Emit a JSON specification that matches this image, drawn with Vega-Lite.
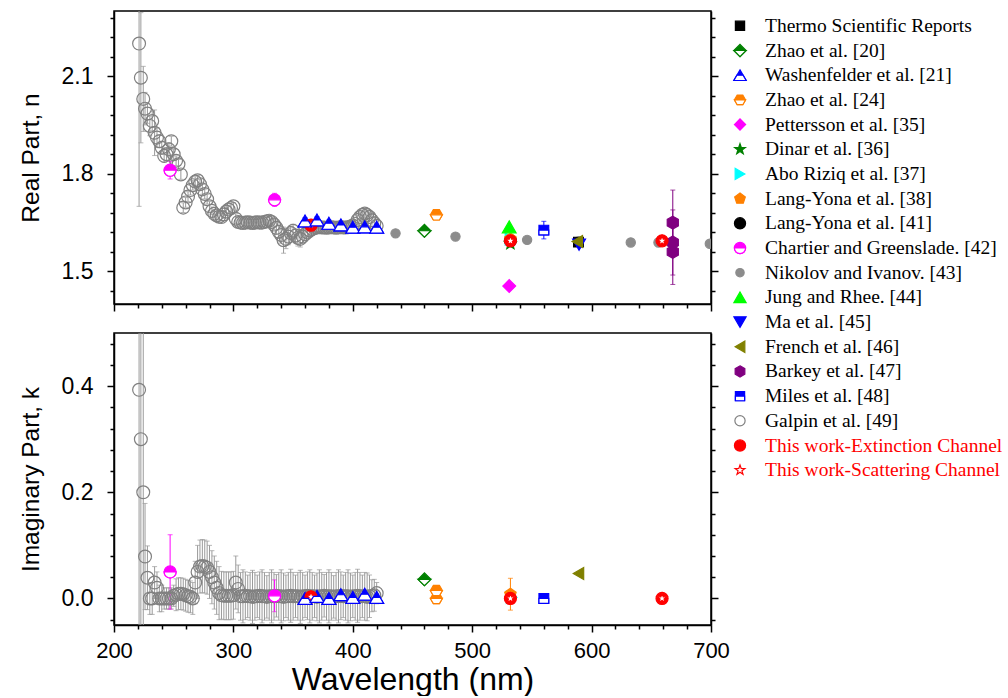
{
"$schema": "https://vega.github.io/schema/vega-lite/v6.json",
"background": "white",
"padding": {"left": 17, "top": 10, "right": 0, "bottom": 0},
"datasets": {
"lg": [
{"s":"Thermo Scientific Reports"},{"s":"Zhao et al. [20]"},{"s":"Washenfelder et al. [21]"},{"s":"Zhao et al. [24]"},{"s":"Pettersson et al. [35]"},{"s":"Dinar et al. [36]"},{"s":"Abo Riziq et al. [37]"},{"s":"Lang-Yona et al. [38]"},{"s":"Lang-Yona et al. [41]"},{"s":"Chartier and Greenslade. [42]"},{"s":"Nikolov and Ivanov. [43]"},{"s":"Jung and Rhee. [44]"},{"s":"Ma et al. [45]"},{"s":"French et al. [46]"},{"s":"Barkey et al. [47]"},{"s":"Miles et al. [48]"},{"s":"Galpin et al. [49]"},{"s":"This work-Extinction Channel"},{"s":"This work-Scattering Channel"}
],
"nd": [
{"s":"Galpin et al. [49]","wl":221,"v":2.2,"e":0.5},
{"s":"Galpin et al. [49]","wl":222.5,"v":2.095,"e":0.2},
{"s":"Galpin et al. [49]","wl":224.5,"v":2.03,"e":0.1},
{"s":"Galpin et al. [49]","wl":226,"v":2.0,"e":0.05},
{"s":"Galpin et al. [49]","wl":228,"v":1.985,"e":0.03},
{"s":"Galpin et al. [49]","wl":230,"v":1.947,"e":0.03},
{"s":"Galpin et al. [49]","wl":232,"v":1.962,"e":0.03},
{"s":"Galpin et al. [49]","wl":234,"v":1.926,"e":0.07},
{"s":"Galpin et al. [49]","wl":236,"v":1.911,"e":0.03},
{"s":"Galpin et al. [49]","wl":238,"v":1.9,"e":0.02},
{"s":"Galpin et al. [49]","wl":240,"v":1.88,"e":0.02},
{"s":"Galpin et al. [49]","wl":242,"v":1.855,"e":0.02},
{"s":"Galpin et al. [49]","wl":244,"v":1.86,"e":0.02},
{"s":"Galpin et al. [49]","wl":246,"v":1.875,"e":0.02},
{"s":"Galpin et al. [49]","wl":248,"v":1.9,"e":0.015},
{"s":"Galpin et al. [49]","wl":250,"v":1.86,"e":0.015},
{"s":"Galpin et al. [49]","wl":252,"v":1.84,"e":0.015},
{"s":"Galpin et al. [49]","wl":254,"v":1.829,"e":0.015},
{"s":"Galpin et al. [49]","wl":256,"v":1.798,"e":0.015},
{"s":"Galpin et al. [49]","wl":258,"v":1.696,"e":0.015},
{"s":"Galpin et al. [49]","wl":260,"v":1.712,"e":0.015},
{"s":"Galpin et al. [49]","wl":262,"v":1.73,"e":0.015},
{"s":"Galpin et al. [49]","wl":264,"v":1.75,"e":0.015},
{"s":"Galpin et al. [49]","wl":266,"v":1.765,"e":0.015},
{"s":"Galpin et al. [49]","wl":268,"v":1.776,"e":0.015},
{"s":"Galpin et al. [49]","wl":270,"v":1.78,"e":0.015},
{"s":"Galpin et al. [49]","wl":272,"v":1.768,"e":0.015},
{"s":"Galpin et al. [49]","wl":274,"v":1.752,"e":0.015},
{"s":"Galpin et al. [49]","wl":276,"v":1.738,"e":0.015},
{"s":"Galpin et al. [49]","wl":278,"v":1.722,"e":0.015},
{"s":"Galpin et al. [49]","wl":280,"v":1.7,"e":0.015},
{"s":"Galpin et al. [49]","wl":282,"v":1.686,"e":0.012},
{"s":"Galpin et al. [49]","wl":284,"v":1.677,"e":0.012},
{"s":"Galpin et al. [49]","wl":286,"v":1.672,"e":0.012},
{"s":"Galpin et al. [49]","wl":288,"v":1.668,"e":0.012},
{"s":"Galpin et al. [49]","wl":290,"v":1.667,"e":0.012},
{"s":"Galpin et al. [49]","wl":292,"v":1.675,"e":0.012},
{"s":"Galpin et al. [49]","wl":294,"v":1.684,"e":0.012},
{"s":"Galpin et al. [49]","wl":296,"v":1.69,"e":0.012},
{"s":"Galpin et al. [49]","wl":298,"v":1.695,"e":0.012},
{"s":"Galpin et al. [49]","wl":300,"v":1.7,"e":0.012},
{"s":"Galpin et al. [49]","wl":302,"v":1.662,"e":0.015},
{"s":"Galpin et al. [49]","wl":304,"v":1.652,"e":0.015},
{"s":"Galpin et al. [49]","wl":306,"v":1.65,"e":0.012},
{"s":"Galpin et al. [49]","wl":308,"v":1.649,"e":0.012},
{"s":"Galpin et al. [49]","wl":310,"v":1.65,"e":0.012},
{"s":"Galpin et al. [49]","wl":312,"v":1.651,"e":0.012},
{"s":"Galpin et al. [49]","wl":314,"v":1.65,"e":0.012},
{"s":"Galpin et al. [49]","wl":316,"v":1.649,"e":0.012},
{"s":"Galpin et al. [49]","wl":318,"v":1.65,"e":0.012},
{"s":"Galpin et al. [49]","wl":320,"v":1.651,"e":0.012},
{"s":"Galpin et al. [49]","wl":322,"v":1.65,"e":0.012},
{"s":"Galpin et al. [49]","wl":324,"v":1.65,"e":0.012},
{"s":"Galpin et al. [49]","wl":326,"v":1.652,"e":0.012},
{"s":"Galpin et al. [49]","wl":328,"v":1.654,"e":0.012},
{"s":"Galpin et al. [49]","wl":330,"v":1.656,"e":0.015},
{"s":"Galpin et al. [49]","wl":332,"v":1.652,"e":0.015},
{"s":"Galpin et al. [49]","wl":334,"v":1.644,"e":0.015},
{"s":"Galpin et al. [49]","wl":336,"v":1.634,"e":0.02},
{"s":"Galpin et al. [49]","wl":338,"v":1.622,"e":0.02},
{"s":"Galpin et al. [49]","wl":340,"v":1.612,"e":0.025},
{"s":"Galpin et al. [49]","wl":342,"v":1.596,"e":0.04},
{"s":"Galpin et al. [49]","wl":344,"v":1.6,"e":0.03},
{"s":"Galpin et al. [49]","wl":346,"v":1.607,"e":0.025},
{"s":"Galpin et al. [49]","wl":348,"v":1.618,"e":0.02},
{"s":"Galpin et al. [49]","wl":350,"v":1.625,"e":0.02},
{"s":"Galpin et al. [49]","wl":352,"v":1.61,"e":0.02},
{"s":"Galpin et al. [49]","wl":354,"v":1.603,"e":0.025},
{"s":"Galpin et al. [49]","wl":356,"v":1.6,"e":0.025},
{"s":"Galpin et al. [49]","wl":358,"v":1.607,"e":0.02},
{"s":"Galpin et al. [49]","wl":360,"v":1.614,"e":0.02},
{"s":"Galpin et al. [49]","wl":362,"v":1.62,"e":0.015},
{"s":"Galpin et al. [49]","wl":364,"v":1.626,"e":0.015},
{"s":"Galpin et al. [49]","wl":366,"v":1.63,"e":0.015},
{"s":"Galpin et al. [49]","wl":368,"v":1.633,"e":0.012},
{"s":"Galpin et al. [49]","wl":370,"v":1.635,"e":0.012},
{"s":"Galpin et al. [49]","wl":372,"v":1.636,"e":0.012},
{"s":"Galpin et al. [49]","wl":374,"v":1.635,"e":0.012},
{"s":"Galpin et al. [49]","wl":376,"v":1.635,"e":0.012},
{"s":"Galpin et al. [49]","wl":378,"v":1.634,"e":0.012},
{"s":"Galpin et al. [49]","wl":380,"v":1.635,"e":0.012},
{"s":"Galpin et al. [49]","wl":382,"v":1.636,"e":0.012},
{"s":"Galpin et al. [49]","wl":384,"v":1.635,"e":0.012},
{"s":"Galpin et al. [49]","wl":386,"v":1.634,"e":0.012},
{"s":"Galpin et al. [49]","wl":388,"v":1.635,"e":0.012},
{"s":"Galpin et al. [49]","wl":390,"v":1.636,"e":0.012},
{"s":"Galpin et al. [49]","wl":392,"v":1.635,"e":0.012},
{"s":"Galpin et al. [49]","wl":394,"v":1.635,"e":0.012},
{"s":"Galpin et al. [49]","wl":396,"v":1.636,"e":0.012},
{"s":"Galpin et al. [49]","wl":398,"v":1.638,"e":0.012},
{"s":"Galpin et al. [49]","wl":400,"v":1.641,"e":0.012},
{"s":"Galpin et al. [49]","wl":402,"v":1.646,"e":0.012},
{"s":"Galpin et al. [49]","wl":404,"v":1.658,"e":0.015},
{"s":"Galpin et al. [49]","wl":406,"v":1.667,"e":0.015},
{"s":"Galpin et al. [49]","wl":408,"v":1.674,"e":0.015},
{"s":"Galpin et al. [49]","wl":410,"v":1.678,"e":0.015},
{"s":"Galpin et al. [49]","wl":412,"v":1.673,"e":0.015},
{"s":"Galpin et al. [49]","wl":414,"v":1.667,"e":0.015},
{"s":"Galpin et al. [49]","wl":416,"v":1.657,"e":0.02},
{"s":"Galpin et al. [49]","wl":418,"v":1.648,"e":0.02},
{"s":"Galpin et al. [49]","wl":420,"v":1.64,"e":0.02},
{"s":"Nikolov and Ivanov. [43]","wl":435.8,"v":1.617,"e":0},
{"s":"Nikolov and Ivanov. [43]","wl":486,"v":1.607,"e":0},
{"s":"Nikolov and Ivanov. [43]","wl":546,"v":1.597,"e":0},
{"s":"Nikolov and Ivanov. [43]","wl":589,"v":1.592,"e":0},
{"s":"Nikolov and Ivanov. [43]","wl":632.8,"v":1.589,"e":0},
{"s":"Nikolov and Ivanov. [43]","wl":656,"v":1.589,"e":0},
{"s":"Nikolov and Ivanov. [43]","wl":699,"v":1.585,"e":0},
{"s":"Washenfelder et al. [21]","wl":360,"v":1.655,"e":0.01},
{"s":"Washenfelder et al. [21]","wl":370,"v":1.658,"e":0.01},
{"s":"Washenfelder et al. [21]","wl":380,"v":1.648,"e":0.01},
{"s":"Washenfelder et al. [21]","wl":390,"v":1.643,"e":0.01},
{"s":"Washenfelder et al. [21]","wl":400,"v":1.636,"e":0.01},
{"s":"Washenfelder et al. [21]","wl":410,"v":1.637,"e":0.01},
{"s":"Washenfelder et al. [21]","wl":420,"v":1.636,"e":0.01},
{"s":"Chartier and Greenslade. [42]","wl":247,"v":1.811,"e":0.027},
{"s":"Chartier and Greenslade. [42]","wl":334.5,"v":1.72,"e":0.02},
{"s":"Zhao et al. [20]","wl":460,"v":1.625,"e":0},
{"s":"Zhao et al. [24]","wl":470,"v":1.674,"e":0.005},
{"s":"Lang-Yona et al. [41]","wl":532,"v":1.595,"e":0},
{"s":"Abo Riziq et al. [37]","wl":532,"v":1.6,"e":0},
{"s":"Lang-Yona et al. [38]","wl":532,"v":1.6,"e":0},
{"s":"Dinar et al. [36]","wl":532,"v":1.585,"e":0},
{"s":"Jung and Rhee. [44]","wl":531,"v":1.637,"e":0},
{"s":"Pettersson et al. [35]","wl":531,"v":1.455,"e":0},
{"s":"Miles et al. [48]","wl":560,"v":1.627,"e":0.027},
{"s":"Thermo Scientific Reports","wl":589,"v":1.59,"e":0},
{"s":"Ma et al. [45]","wl":589.5,"v":1.582,"e":0},
{"s":"French et al. [46]","wl":588,"v":1.592,"e":0},
{"s":"Barkey et al. [47]","wl":668,"v":1.65,"e":0.1},
{"s":"Barkey et al. [47]","wl":668,"v":1.589,"e":0.1},
{"s":"Barkey et al. [47]","wl":668,"v":1.56,"e":0.1},
{"s":"This work-Extinction Channel","wl":365,"v":1.642,"e":0.008},
{"s":"This work-Extinction Channel","wl":532,"v":1.594,"e":0.005},
{"s":"This work-Extinction Channel","wl":659,"v":1.594,"e":0},
{"s":"This work-Scattering Channel","wl":365,"v":1.642,"e":0},
{"s":"This work-Scattering Channel","wl":532,"v":1.594,"e":0},
{"s":"This work-Scattering Channel","wl":659,"v":1.594,"e":0}
],
"kd": [
{"s":"Galpin et al. [49]","wl":221,"v":0.393,"e":0.6},
{"s":"Galpin et al. [49]","wl":222.5,"v":0.3,"e":0.5},
{"s":"Galpin et al. [49]","wl":224.5,"v":0.2,"e":0.35},
{"s":"Galpin et al. [49]","wl":226,"v":0.079,"e":0.1},
{"s":"Galpin et al. [49]","wl":228,"v":0.039,"e":0.06},
{"s":"Galpin et al. [49]","wl":230,"v":0,"e":0.03},
{"s":"Galpin et al. [49]","wl":232,"v":0,"e":0.03},
{"s":"Galpin et al. [49]","wl":234,"v":0.03,"e":0.03},
{"s":"Galpin et al. [49]","wl":236,"v":0.02,"e":0.03},
{"s":"Galpin et al. [49]","wl":238,"v":0,"e":0.025},
{"s":"Galpin et al. [49]","wl":240,"v":0,"e":0.025},
{"s":"Galpin et al. [49]","wl":242,"v":0,"e":0.02},
{"s":"Galpin et al. [49]","wl":244,"v":0,"e":0.02},
{"s":"Galpin et al. [49]","wl":246,"v":0,"e":0.02},
{"s":"Galpin et al. [49]","wl":248,"v":0,"e":0.02},
{"s":"Galpin et al. [49]","wl":250,"v":0.005,"e":0.02},
{"s":"Galpin et al. [49]","wl":252,"v":0.007,"e":0.03},
{"s":"Galpin et al. [49]","wl":254,"v":0.009,"e":0.03},
{"s":"Galpin et al. [49]","wl":256,"v":0.009,"e":0.03},
{"s":"Galpin et al. [49]","wl":258,"v":0.008,"e":0.03},
{"s":"Galpin et al. [49]","wl":260,"v":0.006,"e":0.03},
{"s":"Galpin et al. [49]","wl":262,"v":0.004,"e":0.03},
{"s":"Galpin et al. [49]","wl":264,"v":0.003,"e":0.03},
{"s":"Galpin et al. [49]","wl":266,"v":0,"e":0.03},
{"s":"Galpin et al. [49]","wl":268,"v":0.03,"e":0.04},
{"s":"Galpin et al. [49]","wl":270,"v":0.05,"e":0.05},
{"s":"Galpin et al. [49]","wl":272,"v":0.06,"e":0.05},
{"s":"Galpin et al. [49]","wl":274,"v":0.061,"e":0.05},
{"s":"Galpin et al. [49]","wl":276,"v":0.06,"e":0.05},
{"s":"Galpin et al. [49]","wl":278,"v":0.058,"e":0.05},
{"s":"Galpin et al. [49]","wl":280,"v":0.05,"e":0.05},
{"s":"Galpin et al. [49]","wl":282,"v":0.04,"e":0.05},
{"s":"Galpin et al. [49]","wl":284,"v":0.03,"e":0.05},
{"s":"Galpin et al. [49]","wl":286,"v":0.02,"e":0.05},
{"s":"Galpin et al. [49]","wl":288,"v":0.01,"e":0.05},
{"s":"Galpin et al. [49]","wl":290,"v":0.006,"e":0.045},
{"s":"Galpin et al. [49]","wl":292,"v":0.005,"e":0.045},
{"s":"Galpin et al. [49]","wl":294,"v":0.005,"e":0.045},
{"s":"Galpin et al. [49]","wl":296,"v":0.005,"e":0.045},
{"s":"Galpin et al. [49]","wl":298,"v":0.005,"e":0.045},
{"s":"Galpin et al. [49]","wl":300,"v":0.006,"e":0.045},
{"s":"Galpin et al. [49]","wl":302,"v":0.03,"e":0.05},
{"s":"Galpin et al. [49]","wl":304,"v":0.018,"e":0.045},
{"s":"Galpin et al. [49]","wl":306,"v":0.004,"e":0.045},
{"s":"Galpin et al. [49]","wl":308,"v":0.004,"e":0.05},
{"s":"Galpin et al. [49]","wl":310,"v":0.005,"e":0.045},
{"s":"Galpin et al. [49]","wl":312,"v":0.004,"e":0.04},
{"s":"Galpin et al. [49]","wl":314,"v":0.004,"e":0.045},
{"s":"Galpin et al. [49]","wl":316,"v":0.003,"e":0.05},
{"s":"Galpin et al. [49]","wl":318,"v":0.004,"e":0.045},
{"s":"Galpin et al. [49]","wl":320,"v":0.004,"e":0.04},
{"s":"Galpin et al. [49]","wl":322,"v":0.005,"e":0.045},
{"s":"Galpin et al. [49]","wl":324,"v":0.004,"e":0.05},
{"s":"Galpin et al. [49]","wl":326,"v":0.004,"e":0.045},
{"s":"Galpin et al. [49]","wl":328,"v":0.003,"e":0.04},
{"s":"Galpin et al. [49]","wl":330,"v":0.004,"e":0.045},
{"s":"Galpin et al. [49]","wl":332,"v":0.004,"e":0.05},
{"s":"Galpin et al. [49]","wl":334,"v":0.004,"e":0.045},
{"s":"Galpin et al. [49]","wl":336,"v":0.005,"e":0.04},
{"s":"Galpin et al. [49]","wl":338,"v":0.004,"e":0.045},
{"s":"Galpin et al. [49]","wl":340,"v":0.004,"e":0.05},
{"s":"Galpin et al. [49]","wl":342,"v":0.003,"e":0.045},
{"s":"Galpin et al. [49]","wl":344,"v":0.004,"e":0.04},
{"s":"Galpin et al. [49]","wl":346,"v":0.004,"e":0.045},
{"s":"Galpin et al. [49]","wl":348,"v":0.005,"e":0.05},
{"s":"Galpin et al. [49]","wl":350,"v":0.004,"e":0.045},
{"s":"Galpin et al. [49]","wl":352,"v":0.004,"e":0.04},
{"s":"Galpin et al. [49]","wl":354,"v":0.004,"e":0.045},
{"s":"Galpin et al. [49]","wl":356,"v":0.003,"e":0.05},
{"s":"Galpin et al. [49]","wl":358,"v":0.004,"e":0.045},
{"s":"Galpin et al. [49]","wl":360,"v":0.004,"e":0.04},
{"s":"Galpin et al. [49]","wl":362,"v":0.005,"e":0.045},
{"s":"Galpin et al. [49]","wl":364,"v":0.004,"e":0.05},
{"s":"Galpin et al. [49]","wl":366,"v":0.004,"e":0.045},
{"s":"Galpin et al. [49]","wl":368,"v":0.004,"e":0.04},
{"s":"Galpin et al. [49]","wl":370,"v":0.003,"e":0.045},
{"s":"Galpin et al. [49]","wl":372,"v":0.004,"e":0.05},
{"s":"Galpin et al. [49]","wl":374,"v":0.004,"e":0.045},
{"s":"Galpin et al. [49]","wl":376,"v":0.005,"e":0.04},
{"s":"Galpin et al. [49]","wl":378,"v":0.004,"e":0.045},
{"s":"Galpin et al. [49]","wl":380,"v":0.004,"e":0.05},
{"s":"Galpin et al. [49]","wl":382,"v":0.004,"e":0.045},
{"s":"Galpin et al. [49]","wl":384,"v":0.003,"e":0.04},
{"s":"Galpin et al. [49]","wl":386,"v":0.004,"e":0.045},
{"s":"Galpin et al. [49]","wl":388,"v":0.004,"e":0.05},
{"s":"Galpin et al. [49]","wl":390,"v":0.005,"e":0.045},
{"s":"Galpin et al. [49]","wl":392,"v":0.004,"e":0.04},
{"s":"Galpin et al. [49]","wl":394,"v":0.004,"e":0.045},
{"s":"Galpin et al. [49]","wl":396,"v":0.004,"e":0.05},
{"s":"Galpin et al. [49]","wl":398,"v":0.003,"e":0.045},
{"s":"Galpin et al. [49]","wl":400,"v":0.004,"e":0.04},
{"s":"Galpin et al. [49]","wl":402,"v":0.004,"e":0.045},
{"s":"Galpin et al. [49]","wl":404,"v":0.005,"e":0.05},
{"s":"Galpin et al. [49]","wl":406,"v":0.004,"e":0.045},
{"s":"Galpin et al. [49]","wl":408,"v":0.004,"e":0.04},
{"s":"Galpin et al. [49]","wl":410,"v":0.004,"e":0.045},
{"s":"Galpin et al. [49]","wl":412,"v":0.003,"e":0.045},
{"s":"Galpin et al. [49]","wl":414,"v":0.004,"e":0.04},
{"s":"Galpin et al. [49]","wl":416,"v":0.005,"e":0.03},
{"s":"Galpin et al. [49]","wl":418,"v":0.006,"e":0.03},
{"s":"Galpin et al. [49]","wl":420,"v":0.01,"e":0.02},
{"s":"Chartier and Greenslade. [42]","wl":247,"v":0.05,"e":0.07},
{"s":"Chartier and Greenslade. [42]","wl":334.5,"v":0.005,"e":0.03},
{"s":"Washenfelder et al. [21]","wl":360,"v":0.0,"e":0.006},
{"s":"Washenfelder et al. [21]","wl":370,"v":0.004,"e":0.006},
{"s":"Washenfelder et al. [21]","wl":380,"v":0.0,"e":0.006},
{"s":"Washenfelder et al. [21]","wl":390,"v":0.007,"e":0.006},
{"s":"Washenfelder et al. [21]","wl":400,"v":0.002,"e":0.006},
{"s":"Washenfelder et al. [21]","wl":410,"v":0.008,"e":0.006},
{"s":"Washenfelder et al. [21]","wl":420,"v":0.002,"e":0.006},
{"s":"Zhao et al. [20]","wl":460,"v":0.036,"e":0},
{"s":"Zhao et al. [24]","wl":470,"v":0.015,"e":0},
{"s":"Zhao et al. [24]","wl":470,"v":0.0,"e":0},
{"s":"Abo Riziq et al. [37]","wl":533,"v":0.002,"e":0},
{"s":"Lang-Yona et al. [38]","wl":532,"v":0.008,"e":0.03},
{"s":"Miles et al. [48]","wl":560,"v":0.0,"e":0},
{"s":"French et al. [46]","wl":589,"v":0.047,"e":0},
{"s":"This work-Extinction Channel","wl":365,"v":0.003,"e":0.01},
{"s":"This work-Extinction Channel","wl":532,"v":0.0,"e":0},
{"s":"This work-Extinction Channel","wl":659,"v":0.0,"e":0},
{"s":"This work-Scattering Channel","wl":365,"v":0.003,"e":0},
{"s":"This work-Scattering Channel","wl":532,"v":0.0,"e":0},
{"s":"This work-Scattering Channel","wl":659,"v":0.0,"e":0}
]
},
"hconcat": [
{
"spacing": 19,
"vconcat": [
{
"width": 597, "height": 293,
"data": {"name": "nd"},
"encoding": {
"x": {"field": "wl", "type": "quantitative", "scale": {"domain": [200, 700], "nice": false}, "axis": {"values": [200,220,240,260,280,300,320,340,360,380,400,420,440,460,480,500,520,540,560,580,600,620,640,660,680,700], "labels": false, "title": null, "tickSize": {"condition": {"test": "datum.value % 100 === 0", "value": 7}, "value": 4}}}
},
"layer": [
{
"transform": [{"filter": "datum.e > 0"}],
"mark": {"type": "errorbar", "ticks": {"size": 5}, "thickness": 1, "clip": true},
"encoding": {
"y": {"field": "v", "type": "quantitative", "scale": {"domain": [1.4, 2.3], "nice": false, "zero": false}, "axis": null},
"yError": {"field": "e"},
"color": {"field": "s", "type": "nominal", "legend": null, "scale": {"domain": ["Thermo Scientific Reports","Zhao et al. [20]","Washenfelder et al. [21]","Zhao et al. [24]","Pettersson et al. [35]","Dinar et al. [36]","Abo Riziq et al. [37]","Lang-Yona et al. [38]","Lang-Yona et al. [41]","Chartier and Greenslade. [42]","Nikolov and Ivanov. [43]","Jung and Rhee. [44]","Ma et al. [45]","French et al. [46]","Barkey et al. [47]","Miles et al. [48]","Galpin et al. [49]","This work-Extinction Channel","This work-Scattering Channel"], "range": ["#000000","#008000","#0000ff","#ff8000","#ff00ff","#008000","#00ffff","#ff8000","#000000","#ff00ff","#8c8c8c","#00ff00","#0000ff","#808000","#800080","#0000ff","#9a9a9a","#ff0000","#ff0000"]}}
}
},
{
"mark": {"type": "point", "clip": true, "opacity": 1, "strokeWidth": 1.2},
"encoding": {
"y": {"field": "v", "type": "quantitative", "scale": {"domain": [1.4, 2.3], "nice": false, "zero": false}, "axis": {"values": [1.44,1.5,1.56,1.62,1.68,1.74,1.8,1.86,1.92,1.98,2.04,2.1,2.16,2.22,2.28], "labelExpr": "(datum.value === 1.5 || datum.value === 1.8 || datum.value === 2.1) ? format(datum.value, '.1f') : ''", "tickSize": {"condition": {"test": "datum.value === 1.5 || datum.value === 1.8 || datum.value === 2.1", "value": 7}, "value": 4}, "title": "Real Part, n"}},
"shape": {"field": "s", "type": "nominal", "legend": null, "scale": {"domain": ["Thermo Scientific Reports","Zhao et al. [20]","Washenfelder et al. [21]","Zhao et al. [24]","Pettersson et al. [35]","Dinar et al. [36]","Abo Riziq et al. [37]","Lang-Yona et al. [38]","Lang-Yona et al. [41]","Chartier and Greenslade. [42]","Nikolov and Ivanov. [43]","Jung and Rhee. [44]","Ma et al. [45]","French et al. [46]","Barkey et al. [47]","Miles et al. [48]","Galpin et al. [49]","This work-Extinction Channel","This work-Scattering Channel"], "range": ["M-1,-1L1,-1L1,1L-1,1Z","M-1,0L0,-1L1,0L0,1Z","M0,-0.866L1,0.866L-1,0.866Z","M-1,0L-0.5,-0.866L0.5,-0.866L1,0L0.5,0.866L-0.5,0.866Z","M-1,0L0,-1L1,0L0,1Z","M0,-1L0.235,-0.324L0.951,-0.309L0.38,0.124L0.588,0.809L0,0.4L-0.588,0.809L-0.38,0.124L-0.951,-0.309L-0.235,-0.324Z","M0.866,0L-0.866,-1L-0.866,1Z","M0,-1L0.951,-0.309L0.588,0.809L-0.588,0.809L-0.951,-0.309Z","circle","circle","circle","M0,-0.866L1,0.866L-1,0.866Z","M0,0.866L1,-0.866L-1,-0.866Z","M-0.866,0L0.866,-1L0.866,1Z","M0,-1L0.866,-0.5L0.866,0.5L0,1L-0.866,0.5L-0.866,-0.5Z","M-1,-1L1,-1L1,1L-1,1Z","circle","circle","M0,-1L0.235,-0.324L0.951,-0.309L0.38,0.124L0.588,0.809L0,0.4L-0.588,0.809L-0.38,0.124L-0.951,-0.309L-0.235,-0.324Z"]}},
"fill": {"field": "s", "type": "nominal", "legend": null, "scale": {"domain": ["Thermo Scientific Reports","Zhao et al. [20]","Washenfelder et al. [21]","Zhao et al. [24]","Pettersson et al. [35]","Dinar et al. [36]","Abo Riziq et al. [37]","Lang-Yona et al. [38]","Lang-Yona et al. [41]","Chartier and Greenslade. [42]","Nikolov and Ivanov. [43]","Jung and Rhee. [44]","Ma et al. [45]","French et al. [46]","Barkey et al. [47]","Miles et al. [48]","Galpin et al. [49]","This work-Extinction Channel","This work-Scattering Channel"], "range": ["#000000","#008000","#0000ff","#ff8000","#ff00ff","#008000","#00ffff","#ff8000","#000000","#ff00ff","#8c8c8c","#00ff00","#0000ff","#808000","#800080","#0000ff","transparent","#ff0000","#ffffff"]}},
"stroke": {"field": "s", "type": "nominal", "legend": null, "scale": {"domain": ["Thermo Scientific Reports","Zhao et al. [20]","Washenfelder et al. [21]","Zhao et al. [24]","Pettersson et al. [35]","Dinar et al. [36]","Abo Riziq et al. [37]","Lang-Yona et al. [38]","Lang-Yona et al. [41]","Chartier and Greenslade. [42]","Nikolov and Ivanov. [43]","Jung and Rhee. [44]","Ma et al. [45]","French et al. [46]","Barkey et al. [47]","Miles et al. [48]","Galpin et al. [49]","This work-Extinction Channel","This work-Scattering Channel"], "range": ["#000000","#008000","#0000ff","#ff8000","#ff00ff","#008000","#00ffff","#ff8000","#000000","#ff00ff","#8c8c8c","#00ff00","#0000ff","#808000","#800080","#0000ff","#808080","#ff0000","#ff0000"]}},
"size": {"condition": [
{"test": "datum.s === 'Nikolov and Ivanov. [43]'", "value": 85},
{"test": "datum.s === 'Thermo Scientific Reports' || datum.s === 'Miles et al. [48]'", "value": 95},
{"test": "datum.s === 'This work-Scattering Channel'", "value": 105},
{"test": "datum.s === 'Washenfelder et al. [21]' || datum.s === 'Jung and Rhee. [44]'", "value": 190},
{"test": "datum.s === 'Galpin et al. [49]' || datum.s === 'Pettersson et al. [35]' || datum.s === 'Zhao et al. [20]' || datum.s === 'Ma et al. [45]' || datum.s === 'Barkey et al. [47]'", "value": 165}
], "value": 145}
}
},
{
"transform": [{"filter": {"field": "s", "oneOf": ["Zhao et al. [20]","Washenfelder et al. [21]","Zhao et al. [24]","Chartier and Greenslade. [42]","Miles et al. [48]"]}}],
"mark": {"type": "point", "clip": true, "opacity": 1, "strokeWidth": 1.2, "fill": "white", "filled": false},
"encoding": {
"y": {"field": "v", "type": "quantitative", "scale": {"domain": [1.4, 2.3], "nice": false, "zero": false}, "axis": {"orient": "right", "values": [1.44,1.5,1.56,1.62,1.68,1.74,1.8,1.86,1.92,1.98,2.04,2.1,2.16,2.22,2.28], "labels": false, "title": null, "tickSize": {"condition": {"test": "datum.value === 1.5 || datum.value === 1.8 || datum.value === 2.1", "value": 7}, "value": 4}}},
"shape": {"condition": [
{"test": "datum.s === 'Zhao et al. [20]'", "value": "M-1,0L1,0L0,1Z"},
{"test": "datum.s === 'Washenfelder et al. [21]'", "value": "M-0.5,0L0.5,0L1,0.866L-1,0.866Z"},
{"test": "datum.s === 'Zhao et al. [24]'", "value": "M-1,0L1,0L0.5,0.866L-0.5,0.866Z"},
{"test": "datum.s === 'Chartier and Greenslade. [42]'", "value": "M-1,0L1,0L0.924,0.383L0.707,0.707L0.383,0.924L0,1L-0.383,0.924L-0.707,0.707L-0.924,0.383Z"}
], "value": "M-1,0L1,0L1,1L-1,1Z"},
"stroke": {"field": "s", "type": "nominal", "legend": null},
"size": {"condition": [
{"test": "datum.s === 'Miles et al. [48]'", "value": 95},
{"test": "datum.s === 'Washenfelder et al. [21]'", "value": 190},
{"test": "datum.s === 'Zhao et al. [20]'", "value": 165}
], "value": 145}
}
}
],
"resolve": {"axis": {"y": "independent"}}
},
{
"width": 597, "height": 292,
"data": {"name": "kd"},
"encoding": {
"x": {"field": "wl", "type": "quantitative", "scale": {"domain": [200, 700], "nice": false}, "axis": {"values": [200,220,240,260,280,300,320,340,360,380,400,420,440,460,480,500,520,540,560,580,600,620,640,660,680,700], "labelExpr": "datum.value % 100 === 0 ? datum.label : ''", "labelFlush": false, "labelFontSize": 22, "labelPadding": 8, "title": "Wavelength (nm)", "titleFontSize": 32, "titlePadding": 3, "tickSize": {"condition": {"test": "datum.value % 100 === 0", "value": 7}, "value": 4}}}
},
"layer": [
{
"transform": [{"filter": "datum.e > 0"}],
"mark": {"type": "errorbar", "ticks": {"size": 5}, "thickness": 1, "clip": true},
"encoding": {
"y": {"field": "v", "type": "quantitative", "scale": {"domain": [-0.05, 0.5], "nice": false, "zero": false}, "axis": null},
"yError": {"field": "e"},
"color": {"field": "s", "type": "nominal", "legend": null}
}
},
{
"mark": {"type": "point", "clip": true, "opacity": 1, "strokeWidth": 1.2},
"encoding": {
"y": {"field": "v", "type": "quantitative", "scale": {"domain": [-0.05, 0.5], "nice": false, "zero": false}, "axis": {"values": [-0.04,0,0.04,0.08,0.12,0.16,0.2,0.24,0.28,0.32,0.36,0.4,0.44,0.48], "labelExpr": "(datum.value === 0 || datum.value === 0.2 || datum.value === 0.4) ? format(datum.value, '.1f') : ''", "tickSize": {"condition": {"test": "datum.value === 0 || datum.value === 0.2 || datum.value === 0.4", "value": 7}, "value": 4}, "title": "Imaginary Part, k"}},
"shape": {"field": "s", "type": "nominal", "legend": null},
"fill": {"field": "s", "type": "nominal", "legend": null},
"stroke": {"field": "s", "type": "nominal", "legend": null},
"size": {"condition": [
{"test": "datum.s === 'Nikolov and Ivanov. [43]'", "value": 85},
{"test": "datum.s === 'Thermo Scientific Reports' || datum.s === 'Miles et al. [48]'", "value": 95},
{"test": "datum.s === 'This work-Scattering Channel'", "value": 105},
{"test": "datum.s === 'Washenfelder et al. [21]' || datum.s === 'Jung and Rhee. [44]'", "value": 190},
{"test": "datum.s === 'Galpin et al. [49]' || datum.s === 'Pettersson et al. [35]' || datum.s === 'Zhao et al. [20]' || datum.s === 'Ma et al. [45]' || datum.s === 'Barkey et al. [47]'", "value": 165}
], "value": 145}
}
},
{
"transform": [{"filter": {"field": "s", "oneOf": ["Zhao et al. [20]","Washenfelder et al. [21]","Zhao et al. [24]","Chartier and Greenslade. [42]","Miles et al. [48]"]}}],
"mark": {"type": "point", "clip": true, "opacity": 1, "strokeWidth": 1.2, "fill": "white", "filled": false},
"encoding": {
"y": {"field": "v", "type": "quantitative", "scale": {"domain": [-0.05, 0.5], "nice": false, "zero": false}, "axis": {"orient": "right", "values": [-0.04,0,0.04,0.08,0.12,0.16,0.2,0.24,0.28,0.32,0.36,0.4,0.44,0.48], "labels": false, "title": null, "tickSize": {"condition": {"test": "datum.value === 0 || datum.value === 0.2 || datum.value === 0.4", "value": 7}, "value": 4}}},
"shape": {"condition": [
{"test": "datum.s === 'Zhao et al. [20]'", "value": "M-1,0L1,0L0,1Z"},
{"test": "datum.s === 'Washenfelder et al. [21]'", "value": "M-0.5,0L0.5,0L1,0.866L-1,0.866Z"},
{"test": "datum.s === 'Zhao et al. [24]'", "value": "M-1,0L1,0L0.5,0.866L-0.5,0.866Z"},
{"test": "datum.s === 'Chartier and Greenslade. [42]'", "value": "M-1,0L1,0L0.924,0.383L0.707,0.707L0.383,0.924L0,1L-0.383,0.924L-0.707,0.707L-0.924,0.383Z"}
], "value": "M-1,0L1,0L1,1L-1,1Z"},
"stroke": {"field": "s", "type": "nominal", "legend": null},
"size": {"condition": [
{"test": "datum.s === 'Miles et al. [48]'", "value": 95},
{"test": "datum.s === 'Washenfelder et al. [21]'", "value": 190},
{"test": "datum.s === 'Zhao et al. [20]'", "value": 165}
], "value": 145}
}
}
],
"resolve": {"axis": {"y": "independent"}}
}
]
},
{
"width": 262, "height": 474,
"view": {"stroke": null},
"data": {"name": "lg"},
"encoding": {
"y": {"field": "s", "type": "nominal", "sort": null, "scale": {"type": "point", "padding": 0.6}, "axis": null},
"x": {"datum": 0, "type": "quantitative", "scale": {"domain": [0, 1]}, "axis": null}
},
"layer": [
{
"mark": {"type": "point", "opacity": 1, "strokeWidth": 1.2},
"encoding": {
"shape": {"field": "s", "type": "nominal", "legend": null},
"fill": {"field": "s", "type": "nominal", "legend": null},
"stroke": {"field": "s", "type": "nominal", "legend": null},
"size": {"condition": [
{"test": "datum.s === 'Nikolov and Ivanov. [43]'", "value": 70},
{"test": "datum.s === 'Thermo Scientific Reports' || datum.s === 'Miles et al. [48]'", "value": 85},
{"test": "datum.s === 'This work-Scattering Channel' || datum.s === 'Galpin et al. [49]'", "value": 105},
{"test": "datum.s === 'Washenfelder et al. [21]' || datum.s === 'Jung and Rhee. [44]' || datum.s === 'Ma et al. [45]' || datum.s === 'Zhao et al. [20]'", "value": 150}
], "value": 125}
}
},
{
"transform": [{"filter": {"field": "s", "oneOf": ["Zhao et al. [20]","Washenfelder et al. [21]","Zhao et al. [24]","Chartier and Greenslade. [42]","Miles et al. [48]"]}}],
"mark": {"type": "point", "opacity": 1, "strokeWidth": 1.2, "fill": "white", "filled": false},
"encoding": {
"shape": {"condition": [
{"test": "datum.s === 'Zhao et al. [20]'", "value": "M-1,0L1,0L0,1Z"},
{"test": "datum.s === 'Washenfelder et al. [21]'", "value": "M-0.5,0L0.5,0L1,0.866L-1,0.866Z"},
{"test": "datum.s === 'Zhao et al. [24]'", "value": "M-1,0L1,0L0.5,0.866L-0.5,0.866Z"},
{"test": "datum.s === 'Chartier and Greenslade. [42]'", "value": "M-1,0L1,0L0.924,0.383L0.707,0.707L0.383,0.924L0,1L-0.383,0.924L-0.707,0.707L-0.924,0.383Z"}
], "value": "M-1,0L1,0L1,1L-1,1Z"},
"stroke": {"field": "s", "type": "nominal", "legend": null},
"size": {"condition": [
{"test": "datum.s === 'Miles et al. [48]'", "value": 85},
{"test": "datum.s === 'Washenfelder et al. [21]' || datum.s === 'Zhao et al. [20]'", "value": 150}
], "value": 125}
}
},
{
"mark": {"type": "text", "align": "left", "baseline": "middle", "dx": 25, "font": "Liberation Serif", "fontSize": 19.5},
"encoding": {
"text": {"field": "s"},
"color": {"condition": {"test": "datum.s === 'This work-Extinction Channel' || datum.s === 'This work-Scattering Channel'", "value": "#ff0000"}, "value": "#000000"}
}
}
]
}
],
"spacing": 0,
"config": {
"view": {"stroke": "#000000", "strokeWidth": 1.5},
"axis": {"domainColor": "#000000", "domainWidth": 1.5, "tickColor": "#000000", "tickWidth": 1.5, "tickSize": 7, "labelFont": "Liberation Sans", "labelFontSize": 23, "labelColor": "#000000", "titleFont": "Liberation Sans", "titleFontWeight": "normal", "titleColor": "#000000", "grid": false},
"axisX": {"labelPadding": 8},
"axisY": {"labelPadding": 14, "titlePadding": 18, "titleFontSize": 24.5}
}
}
